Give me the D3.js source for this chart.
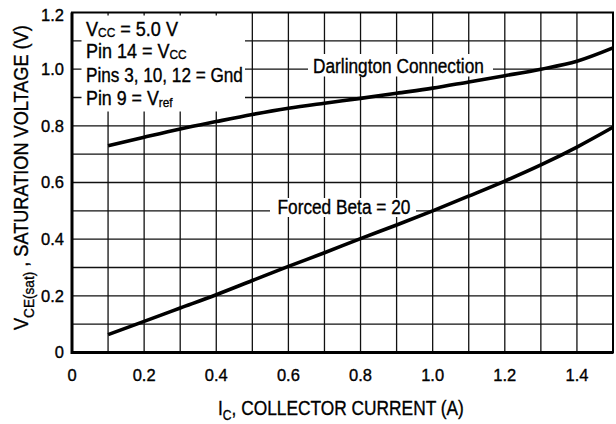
<!DOCTYPE html>
<html>
<head>
<meta charset="utf-8">
<script src="https://cdn.jsdelivr.net/npm/d3@7/dist/d3.min.js"></script>
<style>
  html, body { margin: 0; padding: 0; background: #fff; }
  svg { display: block; }
  text { font-family: "Liberation Sans", Arial, Helvetica, sans-serif; fill: #000; stroke: #000; stroke-width: 0.35px; }
</style>
</head>
<body>
<svg id="chart" width="616" height="424"></svg>
<script>
// ---- data ----
const darlingtonX = [0.1, 0.2, 0.3, 0.4, 0.5, 0.6, 0.7, 0.8, 0.9, 1.0, 1.1, 1.2, 1.3, 1.4, 1.5];
const darlingtonY = [0.73, 0.76, 0.789, 0.815, 0.84, 0.862, 0.88, 0.897, 0.915, 0.933, 0.955, 0.977, 1.0, 1.028, 1.075];
const forcedBetaX = [0.1, 0.2, 0.3, 0.4, 0.5, 0.6, 0.7, 0.8, 0.9, 1.0, 1.1, 1.2, 1.3, 1.4, 1.5];
const forcedBetaY = [0.063, 0.11, 0.157, 0.204, 0.254, 0.304, 0.352, 0.402, 0.45, 0.50, 0.552, 0.605, 0.662, 0.725, 0.795];
const xTickValues = [0, 0.2, 0.4, 0.6, 0.8, 1.0, 1.2, 1.4];
const xTickLabels = ["0", "0.2", "0.4", "0.6", "0.8", "1.0", "1.2", "1.4"];
const yTickValues = [0, 0.2, 0.4, 0.6, 0.8, 1.0, 1.2];
const yTickLabels = ["0", "0.2", "0.4", "0.6", "0.8", "1.0", "1.2"];
const xDomain = [0, 1.5];
const yDomain = [0, 1.2];
const seriesNames = ["Darlington Connection", "Forced Beta = 20"];

// ---- layout ----
const svg = d3.select("#chart");
const L = 72, R = 613, T = 12.5, B = 352.5;
const x = d3.scaleLinear().domain(xDomain).range([L, R]);
const y = d3.scaleLinear().domain(yDomain).range([B, T]);

function fitWidth(g, w) {
  const bb = g.select("text").node().getBBox();
  return w / bb.width;
}

// grid (every 0.1)
const gridX = x.ticks(15).filter(v => v > 0 && v < 1.5);
const gridY = y.ticks(12).filter(v => v > 0 && v < 1.2);
const grid = svg.append("g").attr("stroke", "#111").attr("stroke-width", 1.3);
grid.selectAll("line.gx").data(gridX).join("line").attr("class", "gx")
  .attr("x1", d => x(d)).attr("x2", d => x(d)).attr("y1", T).attr("y2", B);
grid.selectAll("line.gy").data(gridY).join("line").attr("class", "gy")
  .attr("x1", L).attr("x2", R).attr("y1", d => y(d)).attr("y2", d => y(d));

// white areas behind annotations
const masks = [
  [81.5, 15.5, 245, 111.5],
  [308, 54, 493, 76.5],
  [270, 198, 416, 217]
];
svg.append("g").selectAll("rect").data(masks).join("rect")
  .attr("x", d => d[0]).attr("y", d => d[1])
  .attr("width", d => d[2] - d[0]).attr("height", d => d[3] - d[1])
  .attr("fill", "#fff");

// frame
svg.append("rect").attr("x", L).attr("y", T).attr("width", R - L).attr("height", B - T)
  .attr("fill", "none").attr("stroke", "#000").attr("stroke-width", 2);
svg.append("path").attr("d", `M${L},${T} V${B} H${R}`)
  .attr("fill", "none").attr("stroke", "#000").attr("stroke-width", 3);

// curves
const line = d3.line().x(d => x(d[0])).y(d => y(d[1])).curve(d3.curveMonotoneX);
const series = [
  d3.zip(darlingtonX, darlingtonY),
  d3.zip(forcedBetaX, forcedBetaY)
];
svg.append("g").selectAll("path").data(series).join("path")
  .attr("d", line).attr("fill", "none").attr("stroke", "#000")
  .attr("stroke-width", 3.6).attr("stroke-linecap", "butt");

// tick labels
const tickFont = 16.5;
svg.append("g").selectAll("text").data(xTickValues).join("text")
  .attr("x", d => x(d)).attr("y", 380.5)
  .attr("text-anchor", "middle").attr("font-size", tickFont)
  .text((d, i) => xTickLabels[i]);
svg.append("g").selectAll("text").data(yTickValues).join("text")
  .attr("x", 64).attr("y", d => Math.min(Math.max(y(d), 15), 355.5) + 5.8)
  .attr("text-anchor", "end").attr("font-size", tickFont)
  .text((d, i) => yTickLabels[i]);

// horizontally fitted text with optional subscripts
function richText(px, py, w, parts, fs, rotate, subShift, subSize) {
  const g = svg.append("g");
  const t = g.append("text").attr("font-size", fs);
  let shift = 0;
  parts.forEach(p => {
    const sub = p[1] === "sub";
    const target = sub ? subShift * fs : 0;
    const ts = t.append("tspan").text(p[0]);
    if (sub) ts.attr("font-size", fs * subSize);
    if (target !== shift) { ts.attr("dy", target - shift); shift = target; }
  });
  const s = fitWidth(g, w);
  g.attr("transform", `translate(${px},${py})` + (rotate ? ` rotate(${rotate})` : "") + ` scale(${s},1)`);
  return g;
}

// conditions box
const boxFont = 19.5;
richText(86, 35.5, 92, [["V"], ["CC", "sub"], [" = 5.0 V"]], boxFont, 0, 0.1, 0.66);
richText(86, 57.5, 100.7, [["Pin 14 = V"], ["CC", "sub"]], boxFont, 0, 0.1, 0.66);
richText(86, 81.5, 157, [["Pins 3, 10, 12 = Gnd"]], boxFont, 0, 0.1, 0.66);
richText(86, 105, 87, [["Pin 9 = V"], ["ref", "sub"]], boxFont, 0, 0.1, 0.66);

// series labels
richText(313, 73, 171, [[seriesNames[0]]], boxFont, 0, 0, 1);
richText(277.5, 214, 133, [[seriesNames[1]]], boxFont, 0, 0, 1);

// axis titles
richText(218, 415.3, 246, [["I"], ["C", "sub"], [", COLLECTOR CURRENT (A)"]], 20, 0, 0.25, 0.7);
richText(28.3, 330, 305, [["V"], ["CE(sat)", "sub"], [" , SATURATION VOLTAGE (V)"]], 20, -90, 0.28, 0.75);
</script>
</body>
</html>
